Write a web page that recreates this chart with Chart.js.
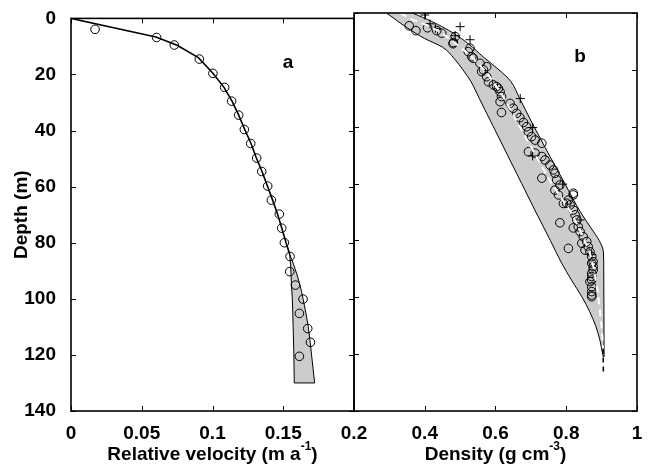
<!DOCTYPE html>
<html>
<head>
<meta charset="utf-8">
<script src="https://cdn.jsdelivr.net/npm/chart.js@4"></script>
<style>
html, body { margin: 0; padding: 0; background: #fff; }
#wrap { position: relative; width: 649px; height: 468px; overflow: hidden; }
#chartA { position: absolute; left: 0; top: 0; }
#chartB { position: absolute; left: 330px; top: 0; }
</style>
</head>
<body>
<div id="wrap">
<canvas id="chartA" width="360" height="468"></canvas>
<canvas id="chartB" width="319" height="468"></canvas>
</div>
<script>
// ---- panel a : relative velocity ----
var velObs   = [0.017, 0.0605, 0.073, 0.0907, 0.1003, 0.1086, 0.1135, 0.1185, 0.1225, 0.127, 0.1312, 0.1348, 0.139, 0.1416, 0.1472, 0.1489, 0.1508, 0.1548, 0.1546, 0.1586, 0.164, 0.1614, 0.1673, 0.1692, 0.1614];
var velObsD  = [3.9, 6.8, 9.5, 14.5, 19.6, 24.6, 29.5, 34.5, 39.6, 44.6, 49.8, 54.6, 59.8, 64.8, 69.8, 74.8, 80, 84.9, 90.3, 95.1, 100.1, 105.2, 110.6, 115.5, 120.5];
var velModel  = [0, 0.06, 0.075, 0.09, 0.1, 0.108, 0.1138, 0.1185, 0.1228, 0.1272, 0.131, 0.135, 0.1388, 0.1425, 0.146, 0.149, 0.152, 0.1545];
var velModelD = [0, 6.6, 9.6, 14, 19.4, 24.5, 29.5, 34.5, 39.6, 44.6, 49.8, 54.6, 59.8, 64.8, 69.8, 74.8, 80, 84];
var velLow   = [0.1545, 0.1552, 0.1558, 0.1564, 0.157, 0.1575, 0.1578];
var velHigh  = [0.1545, 0.1575, 0.1618, 0.164, 0.1677, 0.170, 0.1722];
var velBandD = [84, 88, 95, 100, 110, 120, 130];
var velTicks = [0, 0.05, 0.1, 0.15, 0.2];

// ---- panel b : density ----
var rhoObs  = [0.356, 0.375, 0.408, 0.434, 0.448, 0.486, 0.481, 0.48, 0.528, 0.523, 0.533, 0.537, 0.556, 0.575, 0.561, 0.566, 0.575, 0.58, 0.594, 0.603, 0.608, 0.613, 0.617, 0.613, 0.617, 0.641, 0.65, 0.66, 0.669, 0.679, 0.688, 0.693, 0.702, 0.712, 0.731, 0.693, 0.712, 0.731, 0.74, 0.754, 0.764, 0.768, 0.731, 0.773, 0.782, 0.768, 0.778, 0.82, 0.792, 0.82, 0.806, 0.801, 0.811, 0.82, 0.825, 0.83, 0.782, 0.82, 0.834, 0.839, 0.848, 0.844, 0.858, 0.806, 0.853, 0.862, 0.867, 0.872, 0.876, 0.872, 0.876, 0.876, 0.872, 0.872, 0.872, 0.867, 0.872, 0.872, 0.872, 0.872];
var rhoObsD = [4.5, 6.2, 5.2, 6.2, 7.1, 8.3, 10.4, 10.8, 12.4, 13.6, 15.4, 15.9, 17.7, 18.9, 20.6, 20.0, 22.4, 24.2, 25.3, 25.9, 26.5, 27.7, 29.4, 31.2, 35.0, 31.8, 33.5, 35.3, 36.8, 38.5, 40.0, 41.8, 43.5, 44.7, 45.8, 48.8, 49.3, 50.5, 51.7, 53.5, 55.2, 56.4, 58.1, 58.7, 60.5, 62.3, 64, 63.4, 67, 64, 65.8, 66.9, 67.5, 69.3, 71.0, 72.8, 73.8, 75.6, 75.2, 76.9, 78.7, 81.0, 80.4, 82.8, 83.4, 82.2, 84.0, 85.7, 87.5, 88.0, 89.2, 90.4, 91.6, 92.7, 93.9, 94.5, 96.3, 98.0, 99.2, 99.8];
var rhoPlus  = [0.40, 0.415, 0.43, 0.50, 0.486, 0.528, 0.670, 0.705, 0.705, 0.79, 0.839, 0.872];
var rhoPlusD = [0.7, 3.8, 5.4, 4.8, 8, 9.4, 30.1, 40.3, 50.3, 60.2, 72.8, 85];
var rhoLow   = [0.292, 0.325, 0.36, 0.40, 0.45, 0.483, 0.508, 0.53, 0.554, 0.594, 0.634, 0.674, 0.714, 0.755, 0.787, 0.815, 0.845, 0.866, 0.883, 0.895, 0.903, 0.905];
var rhoLowD  = [0, 3, 6, 9, 12, 16, 20, 24, 30, 40, 50, 60, 70, 80, 88, 94, 100, 105, 110, 115, 120, 121];
var rhoHigh  = [0.365, 0.42, 0.48, 0.525, 0.565, 0.61, 0.643, 0.668, 0.709, 0.752, 0.796, 0.84, 0.872, 0.893, 0.905, 0.906, 0.907];
var rhoHighD = [0, 3, 7, 11, 15.4, 20, 24, 30, 40, 50, 60, 70, 76, 80, 84, 90, 121];
var rhoModel  = [0.33, 0.368, 0.405, 0.443, 0.48, 0.53, 0.575, 0.615, 0.66, 0.695, 0.754, 0.815, 0.845, 0.867, 0.878, 0.888, 0.896, 0.901, 0.904];
var rhoModelD = [0, 2.5, 4.2, 6.6, 10, 15, 21, 28, 38, 46, 59, 70.5, 78, 84.5, 90, 97.4, 105.6, 112, 118];
var rhoTail  = [0.904, 0.905];
var rhoTailD = [118, 127];
var rhoTicks = [0.2, 0.4, 0.6, 0.8, 1];

var depthTicks = [0, 20, 40, 60, 80, 100, 120, 140];

var FONT = "'Liberation Sans', Arial, Helvetica, sans-serif";
Chart.defaults.font.family = FONT;
Chart.defaults.font.weight = 'bold';
Chart.defaults.font.size = 19;
Chart.defaults.color = '#000';

function pts(xs, ys) {
    var out = [];
    for (var i = 0; i < xs.length; i++) out.push({x: xs[i], y: ys[i]});
    return out;
}

function drawTitle(ctx, cx, cy, main, sup, tail) {
    ctx.textBaseline = 'middle';
    ctx.textAlign = 'left';
    ctx.font = 'bold 19px ' + FONT;
    var w1 = ctx.measureText(main).width;
    var w3 = ctx.measureText(tail).width;
    ctx.font = 'bold 12px ' + FONT;
    var w2 = ctx.measureText(sup).width;
    var x0 = cx - (w1 + w2 + w3) / 2;
    ctx.font = 'bold 19px ' + FONT;
    ctx.fillText(main, x0, cy);
    ctx.font = 'bold 12px ' + FONT;
    ctx.fillText(sup, x0 + w1, cy - 8);
    ctx.font = 'bold 19px ' + FONT;
    ctx.fillText(tail, x0 + w1 + w2, cy);
}

// frame, inward ticks, titles, panel letter
var framePlugin = {
    id: 'frame',
    afterDraw: function(chart, args, opts) {
        var ctx = chart.ctx, a = chart.chartArea;
        var xs = chart.scales.x, ys = chart.scales.y;
        ctx.save();
        ctx.strokeStyle = '#000';
        ctx.lineWidth = 1;
        opts.xticks.forEach(function(v) {
            var px = Math.round(xs.getPixelForValue(v)) + 0.5;
            ctx.beginPath();
            ctx.moveTo(px, a.bottom); ctx.lineTo(px, a.bottom - 5);
            ctx.moveTo(px, a.top); ctx.lineTo(px, a.top + 5);
            ctx.stroke();
        });
        depthTicks.forEach(function(v) {
            var py = Math.round(ys.getPixelForValue(v)) + 0.5;
            ctx.beginPath();
            ctx.moveTo(a.left, py); ctx.lineTo(a.left + 5, py);
            ctx.moveTo(a.right, py); ctx.lineTo(a.right - 5, py);
            ctx.stroke();
        });
        ctx.lineWidth = 1.6;
        ctx.strokeRect(a.left, a.top, a.right - a.left, a.bottom - a.top);

        ctx.fillStyle = '#000';
        drawTitle(ctx, (a.left + a.right) / 2, 455, opts.title, opts.sup, ')');

        ctx.font = 'bold 19px ' + FONT;
        ctx.textAlign = 'center';
        ctx.textBaseline = 'middle';
        ctx.fillText(opts.letter, xs.getPixelForValue(opts.letterX), ys.getPixelForValue(opts.letterY));

        if (opts.ytitle) {
            ctx.translate(22, (a.top + a.bottom) / 2);
            ctx.rotate(-Math.PI / 2);
            ctx.fillText(opts.ytitle, 0, 0);
        }
        ctx.restore();
    }
};

function circleSet(data) {
    return {data: data, showLine: false, pointStyle: 'circle', pointRadius: 4.3,
        pointBorderWidth: 1, pointBorderColor: '#000', pointBackgroundColor: 'rgba(0,0,0,0)', borderColor: '#000'};
}

var chartA = new Chart(document.getElementById('chartA'), {
    type: 'line',
    data: {
        datasets: [
            circleSet(pts(velObs, velObsD)),
            {data: pts(velModel, velModelD), borderColor: '#000', borderWidth: 1.6, pointRadius: 0, fill: false},
            {data: pts([velLow[velLow.length - 1], velHigh[velHigh.length - 1]], [130, 130]), borderColor: '#000', borderWidth: 1, pointRadius: 0, fill: false},
            {data: pts(velLow, velBandD), borderColor: '#000', borderWidth: 1, pointRadius: 0, fill: false, cubicInterpolationMode: 'monotone'},
            {data: pts(velHigh, velBandD), borderColor: '#000', borderWidth: 1, pointRadius: 0, fill: 3, backgroundColor: '#cccccc', cubicInterpolationMode: 'monotone'}
        ]
    },
    options: {
        indexAxis: 'y',
        responsive: false,
        animation: false,
        layout: {padding: {top: 13, right: 6, left: 0, bottom: 0}},
        scales: {
            x: {
                type: 'linear', min: 0, max: 0.2,
                afterBuildTicks: function(s) { s.ticks = velTicks.map(function(v) { return {value: v}; }); },
                ticks: {padding: 3, maxRotation: 0, callback: function(v) { return v === 0.2 ? '' : String(v); }},
                grid: {display: false}, border: {display: false},
                afterFit: function(s) { s.height = 57; }
            },
            y: {
                type: 'linear', min: 0, max: 140, reverse: true,
                afterBuildTicks: function(s) { s.ticks = depthTicks.map(function(v) { return {value: v}; }); },
                ticks: {padding: 7},
                grid: {display: false}, border: {display: false},
                afterFit: function(s) { s.width = 71; }
            }
        },
        plugins: {
            legend: {display: false},
            tooltip: {enabled: false},
            frame: {xticks: velTicks, title: 'Relative velocity (m a', sup: '-1', letter: 'a', letterX: 0.1534, letterY: 15.8, ytitle: 'Depth (m)'}
        }
    },
    plugins: [framePlugin]
});

var chartB = new Chart(document.getElementById('chartB'), {
    type: 'line',
    data: {
        datasets: [
            {data: pts(rhoModel, rhoModelD), borderColor: '#ffffff', borderWidth: 2, borderDash: [7, 5], pointRadius: 0, fill: false},
            circleSet(pts(rhoObs, rhoObsD)),
            {data: pts(rhoPlus, rhoPlusD), showLine: false, pointStyle: 'cross', pointRadius: 4.5, pointBorderWidth: 1, pointBorderColor: '#000', borderColor: '#000'},
            {data: pts(rhoTail, rhoTailD), borderColor: '#000', borderWidth: 1.5, borderDash: [5, 4], pointRadius: 0, fill: false},
            {data: pts(rhoLow, rhoLowD), borderColor: '#000', borderWidth: 1, pointRadius: 0, fill: false, cubicInterpolationMode: 'monotone'},
            {data: pts(rhoHigh, rhoHighD), borderColor: '#000', borderWidth: 1, pointRadius: 0, fill: 4, backgroundColor: '#cccccc', cubicInterpolationMode: 'monotone'}
        ]
    },
    options: {
        indexAxis: 'y',
        responsive: false,
        animation: false,
        layout: {padding: {top: 13, right: 12, left: 0, bottom: 0}},
        scales: {
            x: {
                type: 'linear', min: 0.2, max: 1,
                afterBuildTicks: function(s) { s.ticks = rhoTicks.map(function(v) { return {value: v}; }); },
                ticks: {padding: 3, maxRotation: 0, callback: function(v) { return String(v); }},
                grid: {display: false}, border: {display: false},
                afterFit: function(s) { s.height = 57; }
            },
            y: {
                type: 'linear', min: 0, max: 140, reverse: true,
                afterBuildTicks: function(s) { s.ticks = depthTicks.map(function(v) { return {value: v}; }); },
                ticks: {display: false},
                grid: {display: false}, border: {display: false},
                afterFit: function(s) { s.width = 24; }
            }
        },
        plugins: {
            legend: {display: false},
            tooltip: {enabled: false},
            frame: {xticks: rhoTicks, title: 'Density (g cm', sup: '-3', letter: 'b', letterX: 0.839, letterY: 15.5}
        }
    },
    plugins: [framePlugin]
});
</script>
</body>
</html>
